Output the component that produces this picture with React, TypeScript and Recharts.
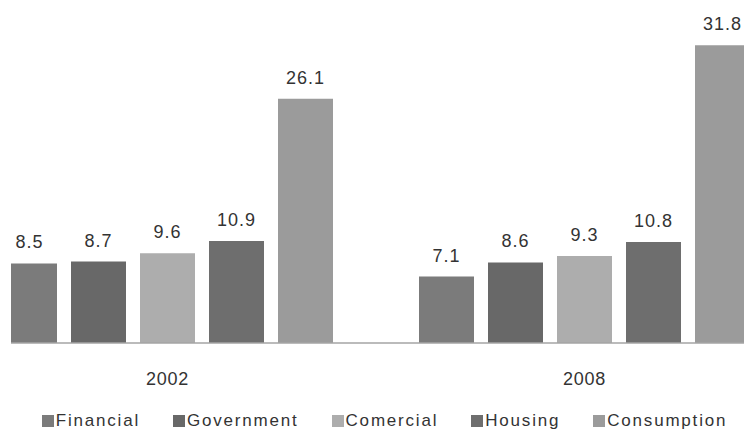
import React from 'react';
import { BarChart, Bar, XAxis, YAxis, Legend, LabelList } from 'recharts';

const years = ['2002', '2008'];
const financial = [8.5, 7.1];
const government = [8.7, 8.6];
const comercial = [9.6, 9.3];
const housing = [10.9, 10.8];
const consumption = [26.1, 31.8];

const series = [
  { key: 'Financial', values: financial, color: '#7b7b7b' },
  { key: 'Government', values: government, color: '#686868' },
  { key: 'Comercial', values: comercial, color: '#adadad' },
  { key: 'Housing', values: housing, color: '#6e6e6e' },
  { key: 'Consumption', values: consumption, color: '#9b9b9b' },
];

const data = years.map((year, i) => {
  const row: Record<string, string | number> = { year };
  series.forEach((s) => {
    row[s.key] = s.values[i];
  });
  return row;
});

const FONT = '"Liberation Sans", Arial, sans-serif';

// keep legend in series order (recharts sorts by name otherwise)
const renderLegend = (props: any) => {
  const items = [...(props.payload || [])].sort(
    (a: any, b: any) =>
      series.findIndex((s) => s.key === a.value) - series.findIndex((s) => s.key === b.value)
  );
  return (
    <div
      style={{
        display: 'flex',
        justifyContent: 'center',
        gap: 33,
        fontFamily: FONT,
        fontSize: 17,
        letterSpacing: 1.8,
        color: '#333',
      }}
    >
      {items.map((entry: any) => (
        <span key={entry.value} style={{ display: 'flex', alignItems: 'center' }}>
          <span
            style={{
              display: 'inline-block',
              width: 12,
              height: 12,
              background: entry.color,
              marginRight: 2,
            }}
          />
          <span>{entry.value}</span>
        </span>
      ))}
    </div>
  );
};

export default function App() {
  return (
    <div style={{ position: 'absolute', left: 0, top: 0, width: 744, height: 430, background: '#fff' }}>
      {/* the source image is cropped: first 11px blank, chart runs off both edges */}
      <div style={{ position: 'absolute', left: 11, top: 0, width: 733, height: 430, overflow: 'hidden' }}>
        <div style={{ position: 'absolute', left: -52.5, top: 0 }}>
          <BarChart
            width={834}
            height={430}
            data={data}
            margin={{ top: 6, right: 0, bottom: 30, left: 0 }}
            barSize={55}
            barGap={14}
          >
            <XAxis
              dataKey="year"
              height={57}
              tickLine={false}
              tickSize={0}
              tickMargin={29}
              axisLine={{ stroke: '#a5a5a5', strokeWidth: 1.5 }}
              tick={{ fill: '#333', fontSize: 18, fontFamily: FONT, letterSpacing: 0.8 }}
            />
            <YAxis hide domain={[0, 36]} />
            <Legend
              verticalAlign="middle"
              align="center"
              layout="horizontal"
              content={renderLegend}
              wrapperStyle={{ top: 411, left: 9, width: 834 }}
            />
            {series.map((s) => (
              <Bar key={s.key} dataKey={s.key} fill={s.color} isAnimationActive={false}>
                <LabelList
                  dataKey={s.key}
                  position="top"
                  offset={15}
                  fill="#333"
                  fontSize={18}
                  fontFamily={FONT}
                  letterSpacing={1}
                />
              </Bar>
            ))}
          </BarChart>
        </div>
      </div>
    </div>
  );
}
